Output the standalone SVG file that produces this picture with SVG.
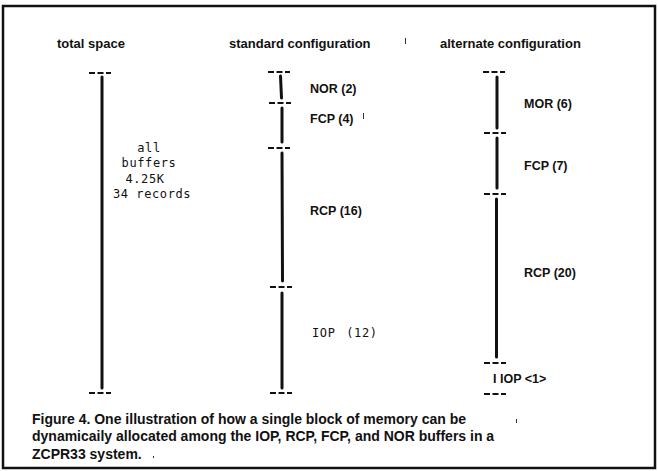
<svg xmlns="http://www.w3.org/2000/svg" width="658" height="471" viewBox="0 0 658 471">
<style>
.title{font-family:"Liberation Sans",Arial,sans-serif;font-weight:bold;font-size:13px;fill:#111}
.lbl{font-family:"Liberation Sans",Arial,sans-serif;font-weight:bold;font-size:12.5px;fill:#111}
.tt{font-family:"DejaVu Sans Mono","Liberation Mono",monospace;font-size:12px;fill:#111;letter-spacing:0.6px}
.cap{font-family:"Liberation Sans",Arial,sans-serif;font-weight:bold;font-size:14px;fill:#111}
.dash{stroke:#111;stroke-width:2;stroke-dasharray:6 2.5;fill:none}
.bar{stroke:#111;stroke-width:3;stroke-linecap:round;fill:none}
.tick{stroke:#333;stroke-width:1;fill:none}
</style>
<rect x="3" y="6" width="652" height="462" fill="#fff" stroke="#111" stroke-width="2.5"/>
<g id="titles">
<text class="title" x="57" y="48">total space</text>
<text class="title" x="229" y="48">standard configuration</text>
<text class="title" x="440" y="48">alternate configuration</text>
<line class="tick" x1="405.5" y1="38" x2="405.5" y2="44"/>
</g>
<g id="total">
<line class="dash" x1="89" y1="73" x2="111" y2="73"/>
<line class="bar" x1="102" y1="77" x2="102" y2="388"/>
<line class="dash" x1="89" y1="393" x2="111" y2="393"/>
<g id="all-buffers" text-anchor="middle">
<text class="tt" x="149" y="152">all</text>
<text class="tt" x="149" y="167">buffers</text>
<text class="tt" x="145" y="183">4.25K</text>
<text class="tt" x="152" y="198">34 records</text>
</g>
</g>
<g id="standard">
<line class="dash" x1="268" y1="72" x2="290" y2="72"/>
<g id="std-nor"><line class="bar" x1="280.5" y1="76" x2="281.5" y2="98"/><text class="lbl" x="310" y="93">NOR (2)</text></g>
<line class="dash" x1="269" y1="103" x2="291" y2="103"/>
<g id="std-fcp"><line class="bar" x1="282" y1="108" x2="282" y2="142"/><text class="lbl" x="310" y="123">FCP (4)</text><line class="tick" x1="363.5" y1="113" x2="363.5" y2="119"/></g>
<line class="dash" x1="268" y1="148" x2="290" y2="148"/>
<g id="std-rcp"><line class="bar" x1="282" y1="153" x2="282.5" y2="281"/><text class="lbl" x="310" y="215">RCP (16)</text></g>
<line class="dash" x1="270" y1="287" x2="292" y2="287"/>
<g id="std-iop"><line class="bar" x1="282" y1="293" x2="282" y2="388"/><text class="tt" x="312" y="337" word-spacing="3">IOP (12)</text></g>
<line class="dash" x1="270" y1="393" x2="292" y2="393"/>
</g>
<g id="alternate">
<line class="dash" x1="483" y1="72" x2="505" y2="72"/>
<g id="alt-mor"><line class="bar" x1="497" y1="77" x2="497" y2="128"/><text class="lbl" x="524" y="108">MOR (6)</text></g>
<line class="dash" x1="484" y1="133" x2="506" y2="133"/>
<g id="alt-fcp"><line class="bar" x1="497" y1="138" x2="497" y2="188"/><text class="lbl" x="524" y="170">FCP (7)</text></g>
<line class="dash" x1="484" y1="194" x2="506" y2="194"/>
<g id="alt-rcp"><line class="bar" x1="496.5" y1="199" x2="496.5" y2="357"/><text class="lbl" x="524" y="277">RCP (20)</text></g>
<line class="dash" x1="484" y1="363" x2="506" y2="363"/>
<g id="alt-iop"><text class="lbl" x="493" y="383">I IOP &lt;1&gt;</text></g>
<line class="dash" x1="484" y1="394" x2="506" y2="394"/>
</g>
<g id="connectors"></g>
<g id="caption">
<text class="cap" x="32" y="423.5">Figure 4. One illustration of how a single block of memory can be</text>
<text class="cap" x="32" y="441">dynamicaily allocated among the IOP, RCP, FCP, and NOR buffers in a</text>
<text class="cap" x="32" y="458.5">ZCPR33 system.</text>
<line class="tick" x1="153.5" y1="456" x2="153.5" y2="458"/>
<line class="tick" x1="516.5" y1="419" x2="516.5" y2="423"/>
</g>
</svg>
